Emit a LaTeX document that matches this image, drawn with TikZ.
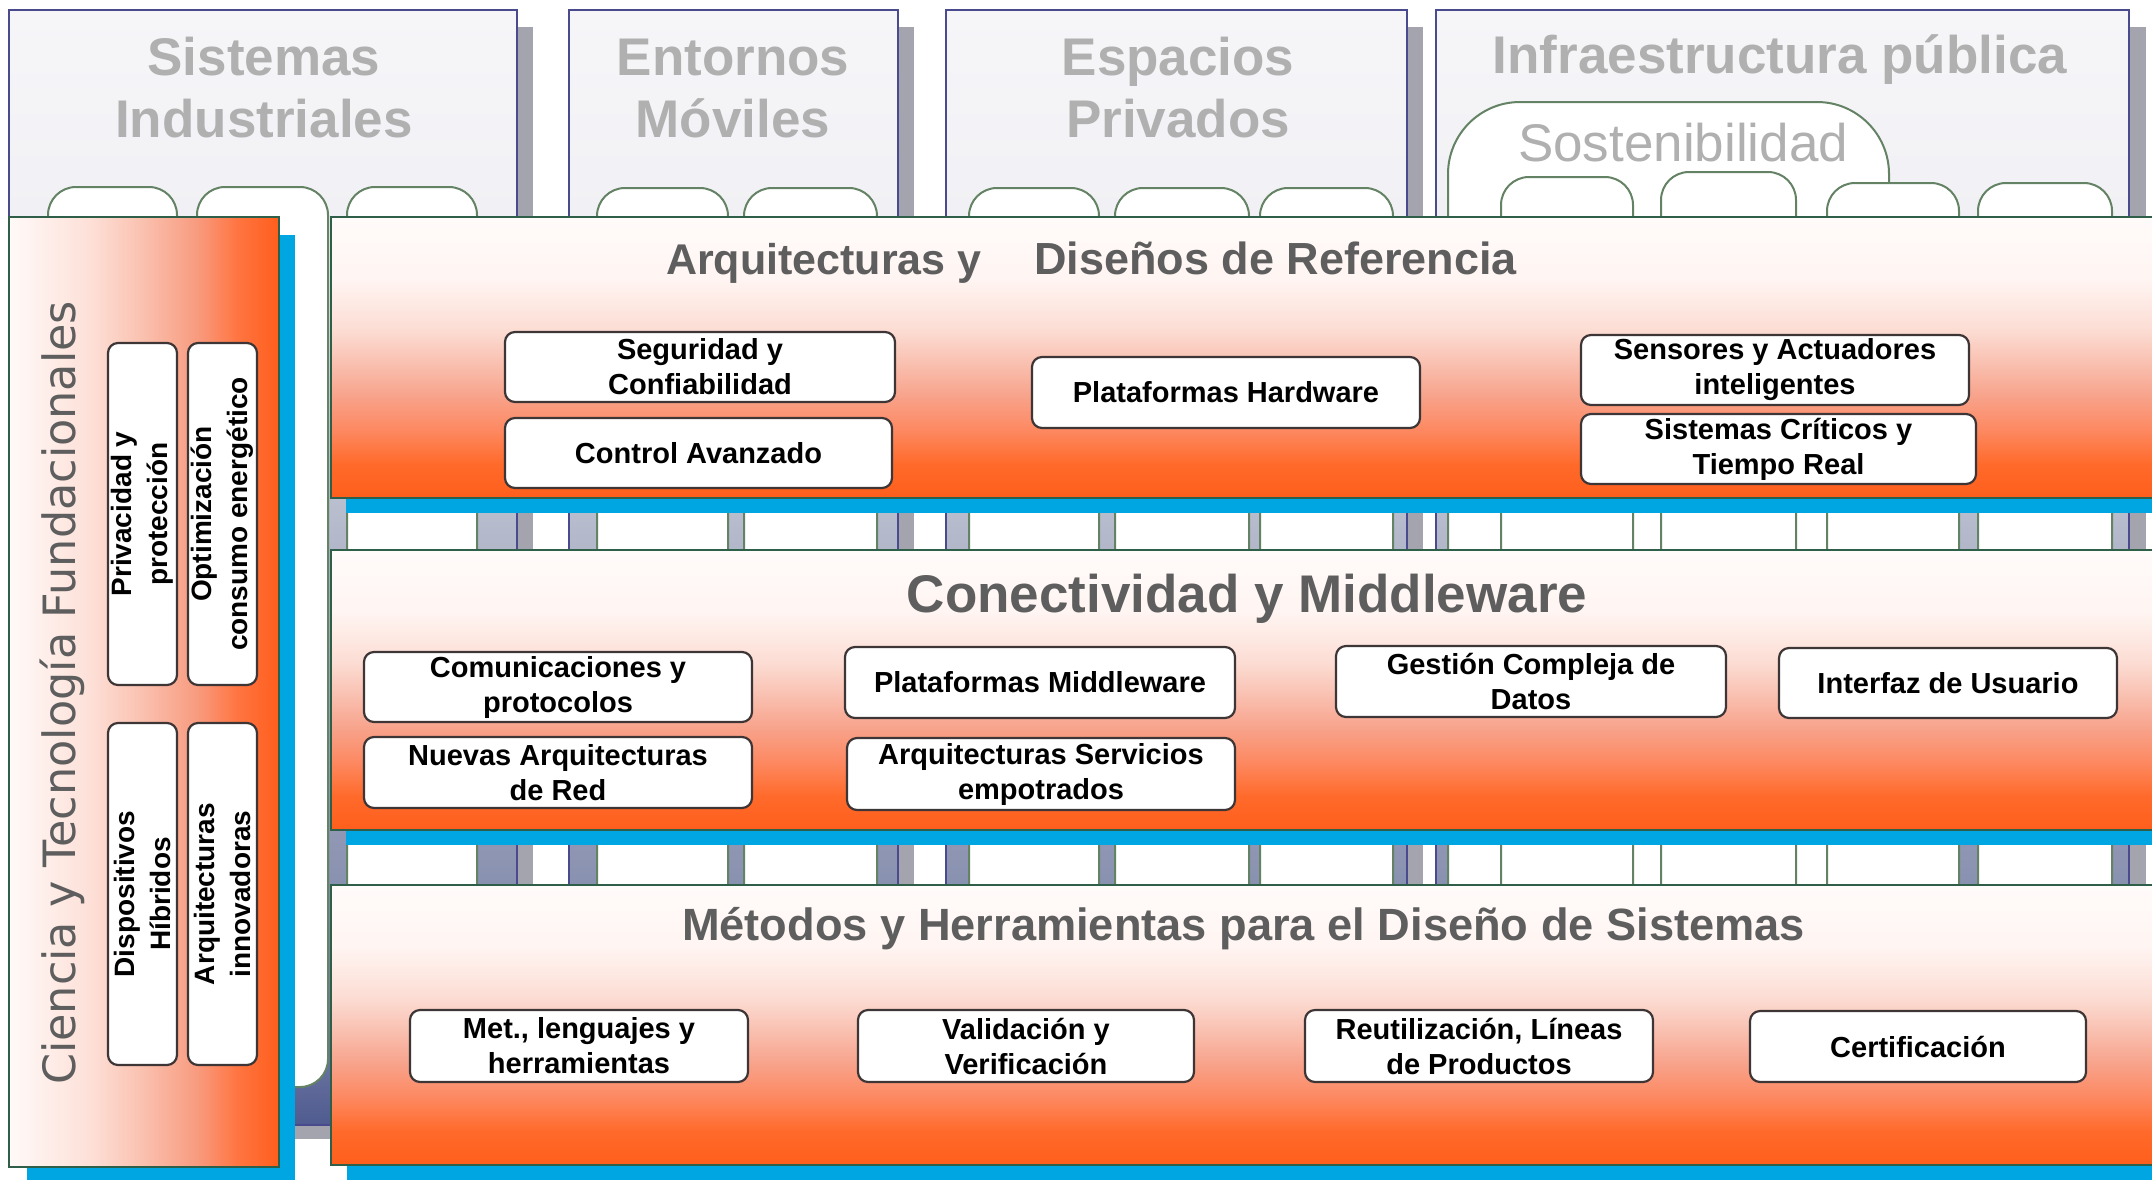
\documentclass[tikz,border=0pt]{standalone}
\usepackage{fontspec}
\newfontfamily\lib{Liberation Sans}
\newfontfamily\dvs{DejaVu Sans}
\definecolor{lay0}{RGB}{255,94,28}
\definecolor{lay1}{RGB}{255,106,42}
\definecolor{lay2}{RGB}{253,136,96}
\definecolor{lay3}{RGB}{248,162,138}
\definecolor{lay4}{RGB}{249,192,176}
\definecolor{lay5}{RGB}{252,221,212}
\definecolor{lay6}{RGB}{255,245,242}
\definecolor{lay7}{RGB}{255,251,250}
\definecolor{pan0}{RGB}{255,250,248}
\definecolor{pan1}{RGB}{253,224,216}
\definecolor{pan2}{RGB}{250,192,174}
\definecolor{pan3}{RGB}{248,154,126}
\definecolor{pan4}{RGB}{255,116,64}
\definecolor{pan5}{RGB}{255,94,28}
\definecolor{col0}{RGB}{79,90,143}
\definecolor{col1}{RGB}{106,116,160}
\definecolor{col2}{RGB}{140,148,178}
\definecolor{col3}{RGB}{180,186,203}
\definecolor{col4}{RGB}{241,241,245}
\definecolor{col5}{RGB}{246,246,249}
\definecolor{colnavy}{RGB}{74,74,142}
\definecolor{tabgreen}{RGB}{100,130,100}
\definecolor{laygreen}{RGB}{47,95,72}
\definecolor{shblue}{RGB}{0,166,226}
\definecolor{shgray}{RGB}{164,164,174}
\definecolor{boxline}{RGB}{62,54,54}
\definecolor{coltext}{RGB}{176,176,176}
\definecolor{laytext}{RGB}{94,94,94}
\pgfdeclareverticalshading{layershade}{100bp}{color(0bp)=(lay0); color(25bp)=(lay0); color(31bp)=(lay1); color(37bp)=(lay2); color(43bp)=(lay3); color(49bp)=(lay4); color(55bp)=(lay5); color(64bp)=(lay6); color(75bp)=(lay7); color(100bp)=(lay7)}
\pgfdeclarehorizontalshading{panelshade}{100bp}{color(0bp)=(pan0); color(25bp)=(pan0); color(40bp)=(pan1); color(50bp)=(pan2); color(60bp)=(pan3); color(67.5bp)=(pan4); color(75bp)=(pan5); color(100bp)=(pan5)}
\pgfdeclareverticalshading{colshade}{100bp}{color(0bp)=(col0); color(25bp)=(col0); color(28bp)=(col1); color(36.7bp)=(col2); color(51.7bp)=(col3); color(65.7bp)=(col4); color(75bp)=(col5); color(100bp)=(col5)}
\begin{document}
\begin{tikzpicture}[x=1pt,y=-1pt,
  colbox/.style={draw=colnavy,line width=2.5,shade,shading=colshade},
  colshadow/.style={fill=shgray},
  tabbox/.style={draw=tabgreen,line width=2,fill=white,rounded corners=28},
  coltitle/.style={inner sep=0,anchor=base,text=coltext,font=\lib\bfseries\fontsize{53}{62}\selectfont},
  layer/.style={draw=laygreen,line width=2.5,shade,shading=layershade},
  panel/.style={draw=laygreen,line width=2.5,shade,shading=panelshade},
  blueshadow/.style={fill=shblue},
  laytitle/.style={inner sep=0,text=laytext,font=\lib\bfseries\fontsize{#1}{#1}\selectfont},
  wbox/.style={draw=boxline,line width=2.2,fill=white,rounded corners=10,inner sep=0,align=center,
    font=\lib\bfseries\fontsize{29}{35}\selectfont},
  vbox/.style={wbox,rotate=90,minimum width=342,minimum height=69,font=\lib\bfseries\fontsize{28}{36}\selectfont}]
\useasboundingbox (0,0) rectangle (2152,1179);
\clip (0,0) rectangle (2152,1179);
\fill[white] (0,0) rectangle (2152,1179);
% column shadows
\path[colshadow] (25,27) rectangle (533,1139);
\path[colshadow] (585,27) rectangle (914,1139);
\path[colshadow] (962,27) rectangle (1423,1139);
\path[colshadow] (1452,27) rectangle (2146,1139);
% column boxes
\path[colbox] (9,10) rectangle (517,1125);
\path[colbox] (569,10) rectangle (898,1125);
\path[colbox] (946,10) rectangle (1407,1125);
\path[colbox] (1436,10) rectangle (2129,1125);
% tabs
\path[tabbox] (48,187) rectangle (177,1087);
\path[tabbox] (197,187) rectangle (328,1087);
\path[tabbox] (347,187) rectangle (477,1087);
\path[tabbox] (597,188) rectangle (728,1087);
\path[tabbox] (744,188) rectangle (877,1087);
\path[tabbox] (969,188) rectangle (1099,1087);
\path[tabbox] (1115,188) rectangle (1249,1087);
\path[tabbox] (1260,188) rectangle (1393,1087);
\path[tabbox,rounded corners=72] (1448,102) rectangle (1889,1087);
\path[tabbox] (1501,177) rectangle (1633,1087);
\path[tabbox] (1661,172) rectangle (1796,1087);
\path[tabbox] (1827,183) rectangle (1959,1087);
\path[tabbox] (1978,183) rectangle (2112,1087);
% column titles
\node[coltitle] (c1a) at (264,75) {Sistemas};
\node[coltitle] (c1b) at (264,137) {Industriales};
\node[coltitle] (c2a) at (733,75) {Entornos};
\node[coltitle] (c2b) at (733,137) {Móviles};
\node[coltitle] (c3a) at (1178,75) {Espacios};
\node[coltitle] (c3b) at (1178,137) {Privados};
\node[coltitle] (c4a) at (1780,73) {Infraestructura pública};
\node[coltitle,font=\lib\fontsize{53}{62}\selectfont] (c4s) at (1683,161) {Sostenibilidad};
% shadows of layers
\path[blueshadow] (346,232) rectangle (2175,513);
\path[blueshadow] (346,565) rectangle (2175,845);
\path[blueshadow] (347,900) rectangle (2175,1190);
\path[blueshadow] (27,235) rectangle (295,1190);
% layers
\path[layer] (331,217) rectangle (2165,498);
\path[layer] (331,550) rectangle (2165,830);
\path[layer] (331,885) rectangle (2165,1165);
\path[panel] (9,217) rectangle (279,1167);
% layer titles
\node[laytitle=43,anchor=base west] (t1a) at (666,274) {Arquitecturas y};
\node[laytitle=45,anchor=base west] (t1b) at (1034,274) {Diseños de Referencia};
\node[laytitle=53,anchor=base] (t2) at (1247,612) {Conectividad y Middleware};
\node[laytitle=45.2,anchor=base] (t3) at (1243.5,940) {Métodos y Herramientas para el Diseño de Sistemas};
\node[rotate=90,anchor=base,inner sep=0,text=laytext,font=\dvs\fontsize{44.5}{50}\selectfont] (t4) at (75,693) {Ciencia y Tecnología Fundacionales};
% layer 1 boxes
\node[wbox,minimum width=390,minimum height=70] (seg) at (700,367) {Seguridad y\\Confiabilidad};
\node[wbox,minimum width=387,minimum height=70] (ctrl) at (698.5,453) {Control Avanzado};
\node[wbox,minimum width=388,minimum height=71] (phw) at (1226,392.5) {Plataformas Hardware};
\node[wbox,minimum width=388,minimum height=70] (sens) at (1775,370) {Sensores y Actuadores\\inteligentes};
\node[wbox,minimum width=395,minimum height=70] (crit) at (1778.5,449) {Sistemas Críticos y\\Tiempo Real};
% layer 2 boxes
\node[wbox,minimum width=388,minimum height=70] (com) at (558,687) {Comunicaciones y\\protocolos};
\node[wbox,minimum width=388,minimum height=71] (nue) at (558,772.5) {Nuevas Arquitecturas\\de Red};
\node[wbox,minimum width=390,minimum height=71] (pmw) at (1040,682.5) {Plataformas Middleware};
\node[wbox,minimum width=388,minimum height=72] (ase) at (1041,774) {Arquitecturas Servicios\\empotrados};
\node[wbox,minimum width=390,minimum height=71] (gest) at (1531,681.5) {Gestión Compleja de\\Datos};
\node[wbox,minimum width=338,minimum height=70] (intf) at (1948,683) {Interfaz de Usuario};
% layer 3 boxes
\node[wbox,minimum width=338,minimum height=72] (met) at (579,1046) {Met., lenguajes y\\herramientas};
\node[wbox,minimum width=336,minimum height=72] (val) at (1026,1046) {Validación y\\Verificación};
\node[wbox,minimum width=348,minimum height=72] (reu) at (1479,1046) {Reutilización, Líneas\\de Productos};
\node[wbox,minimum width=336,minimum height=71] (cert) at (1918,1046.5) {Certificación};
% left panel boxes
\node[vbox] (priv) at (142.5,514) {Privacidad y\\protección};
\node[vbox] (opt) at (222.5,514) {Optimización\\consumo energético};
\node[vbox] (disp) at (142.5,894) {Dispositivos\\Híbridos};
\node[vbox] (arqi) at (222.5,894) {Arquitecturas\\innovadoras};
\end{tikzpicture}
\end{document}
